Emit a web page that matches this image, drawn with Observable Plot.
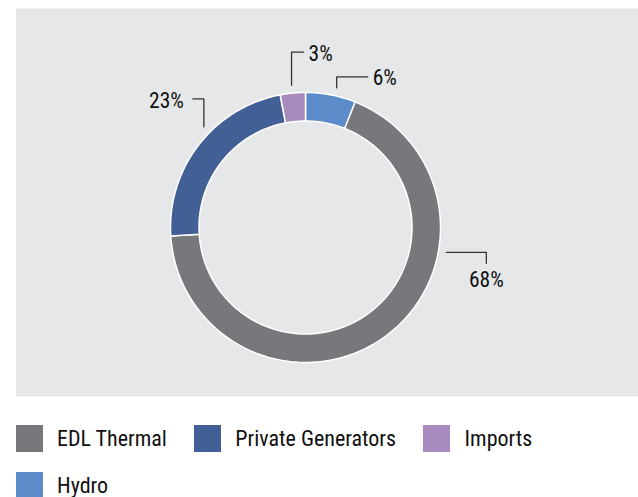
<!DOCTYPE html>
<html>
<head>
<meta charset="utf-8">
<script src="https://cdn.jsdelivr.net/npm/d3@7"></script>
<script src="https://cdn.jsdelivr.net/npm/@observablehq/plot@0.6"></script>
<style>
  html, body { margin: 0; padding: 0; background: #ffffff; }
  body { width: 638px; font-family: "Liberation Sans Narrow", "Roboto Condensed", "DejaVu Sans Condensed", sans-serif; }
  #chart svg { display: block; }
  .legend { display: flex; flex-wrap: wrap; padding-left: 15.5px; margin-top: 25px; row-gap: 20px; width: 622px; }
  .item { display: flex; align-items: center; margin-right: 27px; height: 27px; font-size: 22px; color: #111; }
  .sw { width: 27px; height: 27px; margin-right: 14.5px; }
</style>
</head>
<body>
<div id="chart"></div>
<div class="legend" id="legend"></div>
<script>
// ---- data ----
const categories = ["EDL Thermal", "Private Generators", "Imports", "Hydro"];
const shares = [68, 23, 3, 6];
const labels = ["68%", "23%", "3%", "6%"];
const colors = ["#77787c", "#436096", "#a78abf", "#5b8bc9"];
const drawOrder = ["Hydro", "EDL Thermal", "Private Generators", "Imports"];

// ---- layout (annotation placement, pixels relative to the ring) ----
const R = 135, innerFrac = 106.5 / 135, leaderR = 143 / 135;
const leaderLayout = {
  "EDL Thermal":        {angle: 100,   legs: [[40, 0], [0, 11]],  tdx: 0,  tdy: 16.5, anchor: "middle"},
  "Private Generators": {angle: -45.3, legs: [[0, -28], [-11, 0]], tdx: -9, tdy: 2.5,  anchor: "end"},
  "Imports":            {angle: -5.6,  legs: [[0, -33], [12, 0]],  tdx: 5,  tdy: 2,    anchor: "start"},
  "Hydro":              {angle: 12.6,  legs: [[0, -11], [31, 0]],  tdx: 5,  tdy: 1.5,  anchor: "start"}
};

// ---- build slice polygons via d3.pie ----
const rows = drawOrder.map(c => ({category: c, value: shares[categories.indexOf(c)]}));
const arcs = d3.pie().sort(null).value(d => d.value)(rows);
const polys = [];
for (const a of arcs) {
  const n = Math.max(4, Math.ceil((a.endAngle - a.startAngle) / (Math.PI / 180)));
  const outer = d3.range(n + 1).map(i => a.startAngle + (a.endAngle - a.startAngle) * i / n);
  for (const t of outer) polys.push({category: a.data.category, x: Math.sin(t), y: Math.cos(t)});
  for (const t of outer.slice().reverse()) polys.push({category: a.data.category, x: innerFrac * Math.sin(t), y: innerFrac * Math.cos(t)});
}

// leader lines and label anchors
const leaders = [], texts = [];
for (const c of categories) {
  const L = leaderLayout[c];
  const t = L.angle * Math.PI / 180;
  let x = leaderR * Math.sin(t), y = leaderR * Math.cos(t);
  leaders.push({category: c, x, y});
  for (const [dx, dy] of L.legs) {
    x += dx / R; y -= dy / R;
    leaders.push({category: c, x, y});
  }
  texts.push({category: c, label: labels[categories.indexOf(c)], x: x + L.tdx / R, y: y - L.tdy / R, anchor: L.anchor});
}

const cx = 305, cy = 227;
const fontFam = '"Liberation Sans Narrow", "Roboto Condensed", "DejaVu Sans Condensed", sans-serif';

const plot = Plot.plot({
  width: 638,
  height: 400,
  marginLeft: 15.5,
  marginRight: 0,
  marginTop: 8,
  marginBottom: 4,
  style: {background: "transparent", fontFamily: fontFam},
  x: {domain: [-1, 1], range: [cx - R, cx + R], axis: null},
  y: {domain: [-1, 1], range: [cy + R, cy - R], axis: null},
  color: {domain: categories, range: colors},
  marks: [
    Plot.frame({fill: "#e6e7e9", stroke: null}),
    Plot.line(polys, {x: "x", y: "y", z: "category", fill: "category", stroke: "white", strokeWidth: 1.5, curve: "linear-closed"}),
    Plot.line(leaders, {x: "x", y: "y", z: "category", stroke: "#333", strokeWidth: 1.3}),
    ...["start", "middle", "end"].map(anc =>
      Plot.text(texts.filter(d => d.anchor === anc), {x: "x", y: "y", text: "label", textAnchor: anc, fontSize: 21.5, fill: "#111"})
    )
  ]
});
document.getElementById("chart").appendChild(plot);

const legend = document.getElementById("legend");
categories.forEach((c, i) => {
  const it = document.createElement("div");
  it.className = "item";
  const sw = document.createElement("span");
  sw.className = "sw";
  sw.style.background = colors[i];
  it.appendChild(sw);
  it.appendChild(document.createTextNode(c));
  legend.appendChild(it);
});
</script>
</body>
</html>
